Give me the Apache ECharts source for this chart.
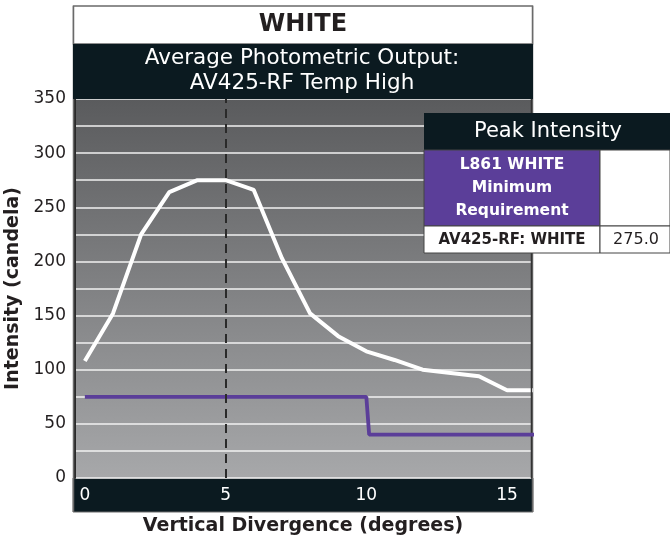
<!DOCTYPE html>
<html>
<head>
<meta charset="utf-8">
<script src="https://cdn.jsdelivr.net/npm/echarts@6/dist/echarts.min.js"></script>
<style>
html,body{margin:0;padding:0;background:#fff;}
#c{width:670px;height:543px;}
</style>
</head>
<body>
<div id="c"></div>
<script>
// ---- data ----
const divergence = [0,1,2,3,4,5,6,7,8,9,10,11,12,13,14,15,16];
const whiteIntensity = [108,152,225,264,275,275,266,203,152,131,117,109,100,97,94,81,81];
const reqDivergence = [0,10,10.1,16];
const reqIntensity = [75,75,40,40];
const xTicks = [0,5,10,15];
const titleText = 'WHITE';
const subTitle = 'Average Photometric Output:\nAV425-RF Temp High';
const tableHeader = 'Peak Intensity';
const reqLabel = 'L861 WHITE\nMinimum\nRequirement';
const seriesLabel = 'AV425-RF: WHITE';
const peakMarker = 5;

const FONT = 'DejaVu Sans';
const DARK = '#0b1a20';
const PURPLE = '#5b3e99';

const whiteData = divergence.map((d,i)=>[d, whiteIntensity[i]]);
const reqData = reqDivergence.map((d,i)=>[d, reqIntensity[i]]);
const peak = Math.max(...whiteIntensity).toFixed(1);

const chart = echarts.init(document.getElementById('c'));
chart.setOption({
  animation:false,
  backgroundColor:'#fff',
  grid:{
    left:75, right:139, top:99, bottom:65,
    outerBoundsMode:'none', containLabel:false,
    show:true, borderWidth:0,
    backgroundColor:{type:'linear',x:0,y:0,x2:0,y2:1,colorStops:[{offset:0,color:'#5a5b5d'},{offset:1,color:'#a7a8aa'}]}
  },
  xAxis:{
    type:'value', min:-0.35, max:15.85, z:5,
    name:'Vertical Divergence (degrees)', nameLocation:'middle', nameGap:39,
    nameTextStyle:{fontFamily:FONT,fontSize:19,fontWeight:'bold',color:'#231f20'},
    axisLine:{show:false}, axisTick:{show:false}, splitLine:{show:false},
    axisLabel:{customValues:xTicks, color:'#fff', fontFamily:FONT, fontSize:17, margin:9}
  },
  yAxis:{
    type:'value', min:0, max:350, interval:25,
    name:'Intensity (candela)', nameLocation:'middle', nameGap:47,
    nameTextStyle:{fontFamily:FONT,fontSize:19,fontWeight:'bold',color:'#231f20'},
    axisLine:{show:true, onZero:false, lineStyle:{color:'#2a2a2a',width:2}},
    axisTick:{show:false},
    axisLabel:{color:'#231f20',fontFamily:FONT,fontSize:17,margin:9,
      formatter:v=> (v%50===0? String(v):'')},
    splitLine:{show:true,lineStyle:{color:'#f2f2f2',width:1.5}}
  },
  series:[
    {
      type:'line', data:whiteData, symbol:'none', z:3,
      lineStyle:{color:'#ffffff',width:4},
      markLine:{silent:true,symbol:'none',label:{show:false},
        lineStyle:{color:'#2a2a2a',width:2,type:[9,6]},
        data:[{xAxis:peakMarker}]}
    },
    {
      type:'line', data:reqData, symbol:'none', z:4,
      lineStyle:{color:PURPLE,width:3.8}
    }
  ],
  graphic:[
    {type:'line',z:1,shape:{x1:73.5,y1:6,x2:73.5,y2:512},style:{stroke:'#6a6a6a',lineWidth:1.5}},
    {type:'line',z:1,shape:{x1:532.5,y1:6,x2:532.5,y2:512},style:{stroke:'#6a6a6a',lineWidth:1.5}},
    {type:'rect',z:2,shape:{x:73.5,y:6,width:459,height:38},style:{fill:'#fff',stroke:'#6a6a6a',lineWidth:1.5}},
    {type:'text',z:3,style:{text:titleText,x:303,y:25,align:'center',verticalAlign:'middle',
      font:'bold 24px '+FONT,fill:'#231f20'}},
    {type:'rect',z:2,shape:{x:73,y:44,width:460,height:55},style:{fill:DARK}},
    {type:'text',z:3,style:{text:subTitle,x:302,y:71,align:'center',verticalAlign:'middle',
      font:'21.5px '+FONT,lineHeight:25,fill:'#fff'}},
    {type:'line',z:4,shape:{x1:531.5,y1:99,x2:531.5,y2:478},style:{stroke:'#333',lineWidth:1.5}},
    {type:'rect',z:-1,shape:{x:73,y:478,width:460,height:34},style:{fill:DARK,stroke:'#6a6a6a',lineWidth:1}},
    {type:'rect',z:50,shape:{x:424,y:113,width:246,height:37},style:{fill:DARK}},
    {type:'text',z:51,style:{text:tableHeader,x:548,y:132,align:'center',verticalAlign:'middle',
      font:'21px '+FONT,fill:'#fff'}},
    {type:'rect',z:50,shape:{x:424,y:150,width:176,height:76},style:{fill:PURPLE,stroke:'#444',lineWidth:1}},
    {type:'text',z:51,style:{text:reqLabel,x:512,y:188,align:'center',verticalAlign:'middle',
      font:'bold 15.5px '+FONT,lineHeight:23,fill:'#fff'}},
    {type:'rect',z:50,shape:{x:600,y:150,width:70,height:76},style:{fill:'#fff',stroke:'#444',lineWidth:1}},
    {type:'rect',z:50,shape:{x:424,y:226,width:176,height:27},style:{fill:'#fff',stroke:'#444',lineWidth:1}},
    {type:'text',z:51,style:{text:seriesLabel,x:512,y:240,align:'center',verticalAlign:'middle',
      font:'bold 15px '+FONT,fill:'#231f20'}},
    {type:'rect',z:50,shape:{x:600,y:226,width:70,height:27},style:{fill:'#fff',stroke:'#444',lineWidth:1}},
    {type:'text',z:51,style:{text:peak,x:636,y:240,align:'center',verticalAlign:'middle',
      font:'16px '+FONT,fill:'#231f20'}}
  ]
});
</script>
</body>
</html>
